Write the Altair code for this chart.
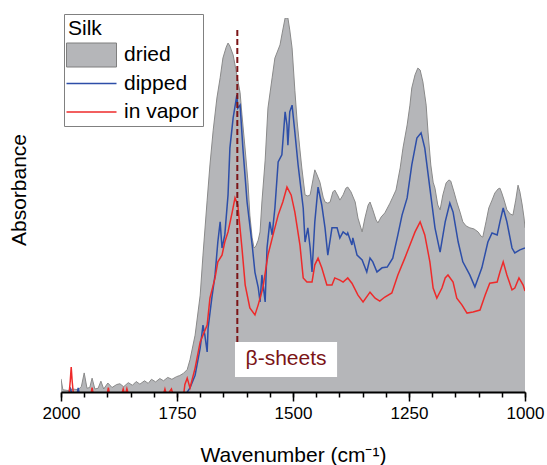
import altair as alt
import pandas as pd

# FTIR absorbance spectra of silk films (arbitrary absorbance units)
dried_wn = [2000, 1996, 1985, 1975, 1963, 1956, 1950, 1944, 1938, 1933, 1927, 1920,
            1914, 1908, 1899, 1890, 1880, 1873, 1865, 1855, 1846, 1838, 1830, 1820,
            1812, 1805, 1796, 1787, 1779, 1770, 1761, 1751, 1744, 1736, 1728, 1722,
            1711, 1700, 1694, 1685, 1679, 1672, 1664, 1657, 1651, 1644, 1640, 1636,
            1629, 1621, 1614, 1610, 1603, 1597, 1593, 1588, 1584, 1580, 1575, 1571,
            1567, 1560, 1554, 1545, 1539, 1528, 1522, 1517, 1511, 1507, 1502, 1496,
            1491, 1485, 1481, 1474, 1468, 1463, 1457, 1453, 1449, 1442, 1435, 1431,
            1425, 1420, 1414, 1410, 1403, 1399, 1392, 1386, 1382, 1375, 1366, 1360,
            1351, 1345, 1338, 1334, 1328, 1321, 1317, 1310, 1302, 1291, 1285, 1278,
            1269, 1263, 1254, 1248, 1244, 1237, 1231, 1226, 1220, 1213, 1209, 1203,
            1198, 1194, 1188, 1183, 1177, 1170, 1164, 1160, 1153, 1147, 1140, 1134,
            1127, 1119, 1110, 1101, 1095, 1091, 1084, 1078, 1071, 1065, 1058, 1054,
            1050, 1045, 1039, 1032, 1026, 1020, 1015, 1011, 1006, 1002, 1000]
dried_abs = [0.035, 0.006, 0.004, 0.008, 0.006, 0.015, 0.051, 0.010, 0.012, 0.037, 0.008, 0.010,
             0.029, 0.008, 0.024, 0.012, 0.020, 0.022, 0.014, 0.025, 0.018, 0.028, 0.021, 0.030,
             0.023, 0.034, 0.027, 0.036, 0.030, 0.039, 0.034, 0.041, 0.044, 0.050, 0.060, 0.086,
             0.152, 0.259, 0.366, 0.513, 0.607, 0.700, 0.786, 0.840, 0.893, 0.922, 0.933, 0.925,
             0.901, 0.848, 0.800, 0.741, 0.647, 0.561, 0.473, 0.412, 0.385, 0.390, 0.406, 0.428,
             0.508, 0.620, 0.759, 0.840, 0.893, 0.928, 0.968, 1.000, 1.000, 0.968, 0.920, 0.807,
             0.722, 0.647, 0.599, 0.527, 0.524, 0.527, 0.567, 0.594, 0.583, 0.561, 0.521, 0.508,
             0.505, 0.508, 0.535, 0.540, 0.524, 0.513, 0.527, 0.545, 0.548, 0.535, 0.508, 0.465,
             0.428, 0.465, 0.500, 0.508, 0.487, 0.460, 0.452, 0.468, 0.479, 0.505, 0.521, 0.540,
             0.599, 0.652, 0.714, 0.767, 0.813, 0.848, 0.866, 0.861, 0.829, 0.767, 0.695, 0.607,
             0.561, 0.545, 0.500, 0.487, 0.527, 0.559, 0.567, 0.564, 0.535, 0.508, 0.481, 0.455,
             0.444, 0.439, 0.436, 0.428, 0.417, 0.414, 0.455, 0.492, 0.513, 0.532, 0.543, 0.545,
             0.532, 0.513, 0.487, 0.476, 0.473, 0.513, 0.553, 0.535, 0.500, 0.465, 0.439]

dipped_wn = [2000, 1984, 1980, 1976, 1966, 1963, 1960, 1740, 1730, 1722, 1711, 1700,
             1694, 1690, 1685, 1683, 1675, 1668, 1662, 1657, 1653, 1647, 1640, 1636,
             1629, 1621, 1619, 1614, 1608, 1599, 1588, 1582, 1575, 1571, 1567, 1560,
             1556, 1550, 1545, 1539, 1532, 1524, 1517, 1513, 1511, 1507, 1502, 1496,
             1489, 1478, 1474, 1468, 1463, 1459, 1453, 1446, 1438, 1431, 1425, 1416,
             1405, 1399, 1392, 1384, 1382, 1373, 1371, 1362, 1351, 1341, 1334, 1328,
             1319, 1308, 1297, 1285, 1274, 1265, 1254, 1244, 1233, 1224, 1216, 1205,
             1194, 1183, 1172, 1162, 1155, 1144, 1134, 1119, 1108, 1093, 1080, 1071,
             1060, 1054, 1047, 1039, 1028, 1022, 1011, 1000]
dipped_abs = [-0.010, -0.010, 0.012, -0.010, -0.010, 0.011, -0.010, -0.010, -0.004, 0.011, 0.045, 0.118,
              0.179, 0.152, 0.107, 0.171, 0.251, 0.313, 0.401, 0.455, 0.385, 0.420, 0.527, 0.652,
              0.733, 0.794, 0.759, 0.767, 0.652, 0.508, 0.393, 0.320, 0.280, 0.241, 0.313, 0.241,
              0.385, 0.455, 0.420, 0.492, 0.615, 0.634, 0.749, 0.714, 0.660, 0.749, 0.767, 0.695,
              0.607, 0.492, 0.401, 0.439, 0.385, 0.321, 0.455, 0.548, 0.500, 0.439, 0.366, 0.439,
              0.439, 0.412, 0.428, 0.420, 0.425, 0.393, 0.412, 0.366, 0.353, 0.321, 0.358, 0.348,
              0.321, 0.332, 0.334, 0.358, 0.420, 0.473, 0.519, 0.607, 0.679, 0.693, 0.652, 0.545,
              0.439, 0.374, 0.455, 0.505, 0.481, 0.401, 0.348, 0.313, 0.281, 0.332, 0.401, 0.425,
              0.420, 0.455, 0.492, 0.455, 0.385, 0.372, 0.380, 0.385]

vapor_wn = [2000, 1983, 1980, 1978, 1976, 1973, 1936, 1933, 1930, 1901, 1898, 1895,
            1870, 1866, 1862, 1858, 1854, 1780, 1776, 1772, 1762, 1758, 1736, 1733,
            1728, 1722, 1711, 1700, 1685, 1679, 1668, 1662, 1653, 1647, 1640, 1631,
            1625, 1619, 1610, 1603, 1593, 1582, 1575, 1565, 1554, 1543, 1532, 1522,
            1513, 1504, 1496, 1485, 1478, 1470, 1459, 1453, 1446, 1438, 1427, 1416,
            1410, 1399, 1392, 1382, 1373, 1360, 1349, 1334, 1323, 1313, 1302, 1287,
            1274, 1259, 1248, 1237, 1226, 1216, 1205, 1198, 1190, 1179, 1172, 1166,
            1155, 1147, 1136, 1125, 1112, 1097, 1086, 1076, 1060, 1054, 1047, 1039,
            1028, 1022, 1013, 1004, 1000]
vapor_abs = [-0.010, -0.010, 0.030, 0.067, 0.030, -0.010, -0.010, 0.012, -0.010, -0.010, 0.012, -0.010,
             -0.010, 0.008, -0.010, 0.009, -0.010, -0.010, 0.008, -0.010, 0.008, -0.010, -0.010, 0.020,
             0.037, 0.011, 0.064, 0.134, 0.179, 0.251, 0.305, 0.348, 0.366, 0.401, 0.428, 0.481,
             0.519, 0.500, 0.385, 0.286, 0.225, 0.206, 0.233, 0.278, 0.366, 0.420, 0.473, 0.508,
             0.548, 0.527, 0.481, 0.393, 0.305, 0.294, 0.294, 0.340, 0.358, 0.332, 0.286, 0.286,
             0.305, 0.299, 0.294, 0.305, 0.291, 0.259, 0.241, 0.267, 0.251, 0.243, 0.254, 0.265,
             0.313, 0.358, 0.393, 0.428, 0.455, 0.420, 0.348, 0.278, 0.251, 0.278, 0.305, 0.313,
             0.294, 0.251, 0.233, 0.211, 0.214, 0.219, 0.259, 0.291, 0.294, 0.321, 0.348, 0.313,
             0.273, 0.278, 0.305, 0.286, 0.270]

series_names = ["dried", "dipped", "in vapor"]
series_colors = ["#b5b6b9", "#2d4ea8", "#ee2a2a"]
outline_color = "#8a8a8a"
annot_color = "#7b1416"
y_title = "Absorbance"

# beta-sheet marker (amide I band)
peak_wn = 1620
peak_bottom = 0.134
peak_top = 0.968
label_text = "β-sheets"
label_box = {"x0": 1625, "x1": 1405, "y0": 0.040, "y1": 0.134, "xc": 1515, "yc": 0.087}

major_ticks = [2000, 1750, 1500, 1250, 1000]
minor_ticks = list(range(1000, 2001, 50))

dried_df = pd.DataFrame({"wn": dried_wn, "abs": dried_abs, "sample": series_names[0]})
lines_df = pd.concat([
    pd.DataFrame({"wn": dipped_wn, "abs": dipped_abs, "sample": series_names[1]}),
    pd.DataFrame({"wn": vapor_wn, "abs": vapor_abs, "sample": series_names[2]}),
], ignore_index=True)
rule_df = pd.DataFrame({"wn": [peak_wn], "bottom": [peak_bottom], "top": [peak_top]})
label_df = pd.DataFrame({k: [v] for k, v in label_box.items()})
label_df["text"] = label_text

xs = alt.Scale(domain=[1000, 2000], reverse=True, nice=False, zero=False)
ys = alt.Scale(domain=[0, 1], nice=False, zero=False)
FS = 21

area = alt.Chart(dried_df).mark_area(clip=True).encode(
    x=alt.X("wn:Q", scale=xs, axis=alt.Axis(
        values=major_ticks, format="d", orient="bottom", tickSize=9, tickWidth=1.5,
        tickColor="black", domainColor="black", domainWidth=2, labelFontSize=17,
        labelColor="black", labelPadding=4, labelFlush=False, grid=False, zindex=2,
        title="Wavenumber (cm⁻¹)", titleFontSize=FS, titleFontWeight="normal",
        titleColor="black", titleY=69, titleBaseline="alphabetic")),
    y=alt.Y("abs:Q", scale=ys, axis=None),
    fill=alt.Fill("sample:N", scale=alt.Scale(domain=series_names[:1], range=series_colors[:1]),
                  legend=alt.Legend(
                      title=None, orient="none", legendX=3, legendY=22.5, padding=4,
                      labelFontSize=FS, labelColor="black",
                      symbolType="M-5,-2.4H5V2.4H-5Z", symbolSize=100,
                      symbolStrokeColor="#7f7f7f", symbolStrokeWidth=1,
                      symbolOffset=13, labelOffset=22)),
)

outline = alt.Chart(dried_df).mark_line(color=outline_color, strokeWidth=1, clip=True).encode(
    x=alt.X("wn:Q", scale=xs, axis=alt.Axis(
        values=minor_ticks, orient="bottom", tickSize=5, tickWidth=1.5, tickColor="black",
        labels=False, domain=False, grid=False, title=None, zindex=2)),
    y=alt.Y("abs:Q", scale=ys, axis=alt.Axis(
        orient="left", ticks=False, labels=False, grid=False, domainColor="black",
        domainWidth=1.2, zindex=2, title=None)),
)

lines = alt.Chart(lines_df).mark_line(strokeWidth=1.5, clip=True).encode(
    x=alt.X("wn:Q", scale=xs, axis=None),
    y=alt.Y("abs:Q", scale=ys, axis=None),
    stroke=alt.Stroke("sample:N", scale=alt.Scale(domain=series_names[1:], range=series_colors[1:]),
                      legend=alt.Legend(
                          title="Silk", orient="none", legendX=3, legendY=-4, padding=4,
                          strokeColor="#808080", titleFontSize=FS, titleFontWeight="normal",
                          titleColor="black", titlePadding=34, labelFontSize=FS,
                          labelColor="black", symbolType="M-5,0H5", symbolSize=100,
                          symbolStrokeWidth=1.5, symbolOffset=13, labelOffset=22,
                          rowPadding=6.5)),
)

box = alt.Chart(label_df).mark_rect(color="white").encode(
    x=alt.X("x0:Q", scale=xs, axis=None), x2="x1:Q",
    y=alt.Y("y0:Q", scale=ys, axis=None), y2="y1:Q",
)

rule = alt.Chart(rule_df).mark_rule(color=annot_color, strokeWidth=2, strokeDash=[6, 3]).encode(
    x=alt.X("wn:Q", scale=xs, axis=None),
    y=alt.Y("bottom:Q", scale=ys, axis=None), y2="top:Q",
)

text = alt.Chart(label_df).mark_text(color=annot_color, fontSize=FS, align="center",
                                     baseline="middle").encode(
    x=alt.X("xc:Q", scale=xs, axis=None),
    y=alt.Y("yc:Q", scale=ys, axis=None),
    text="text:N",
)

# vertical title for the absorbance axis, set left of the plot area
y_label = alt.Chart(pd.DataFrame({"t": [y_title]})).mark_text(
    angle=270, fontSize=FS, color="black", align="center", baseline="middle"
).encode(x=alt.value(-41), y=alt.value(172), text="t:N")

chart = alt.layer(area, outline, lines, box, rule, text, y_label).resolve_axis(
    x="independent"
).properties(
    width=464, height=374,
    padding={"left": 61, "top": 18, "right": 22, "bottom": 73},
    autosize=alt.AutoSizeParams(type="none"),
).configure(font="Liberation Sans").configure_view(stroke=None)

chart.save("out.html", embed_options={"renderer": "svg", "actions": False})
